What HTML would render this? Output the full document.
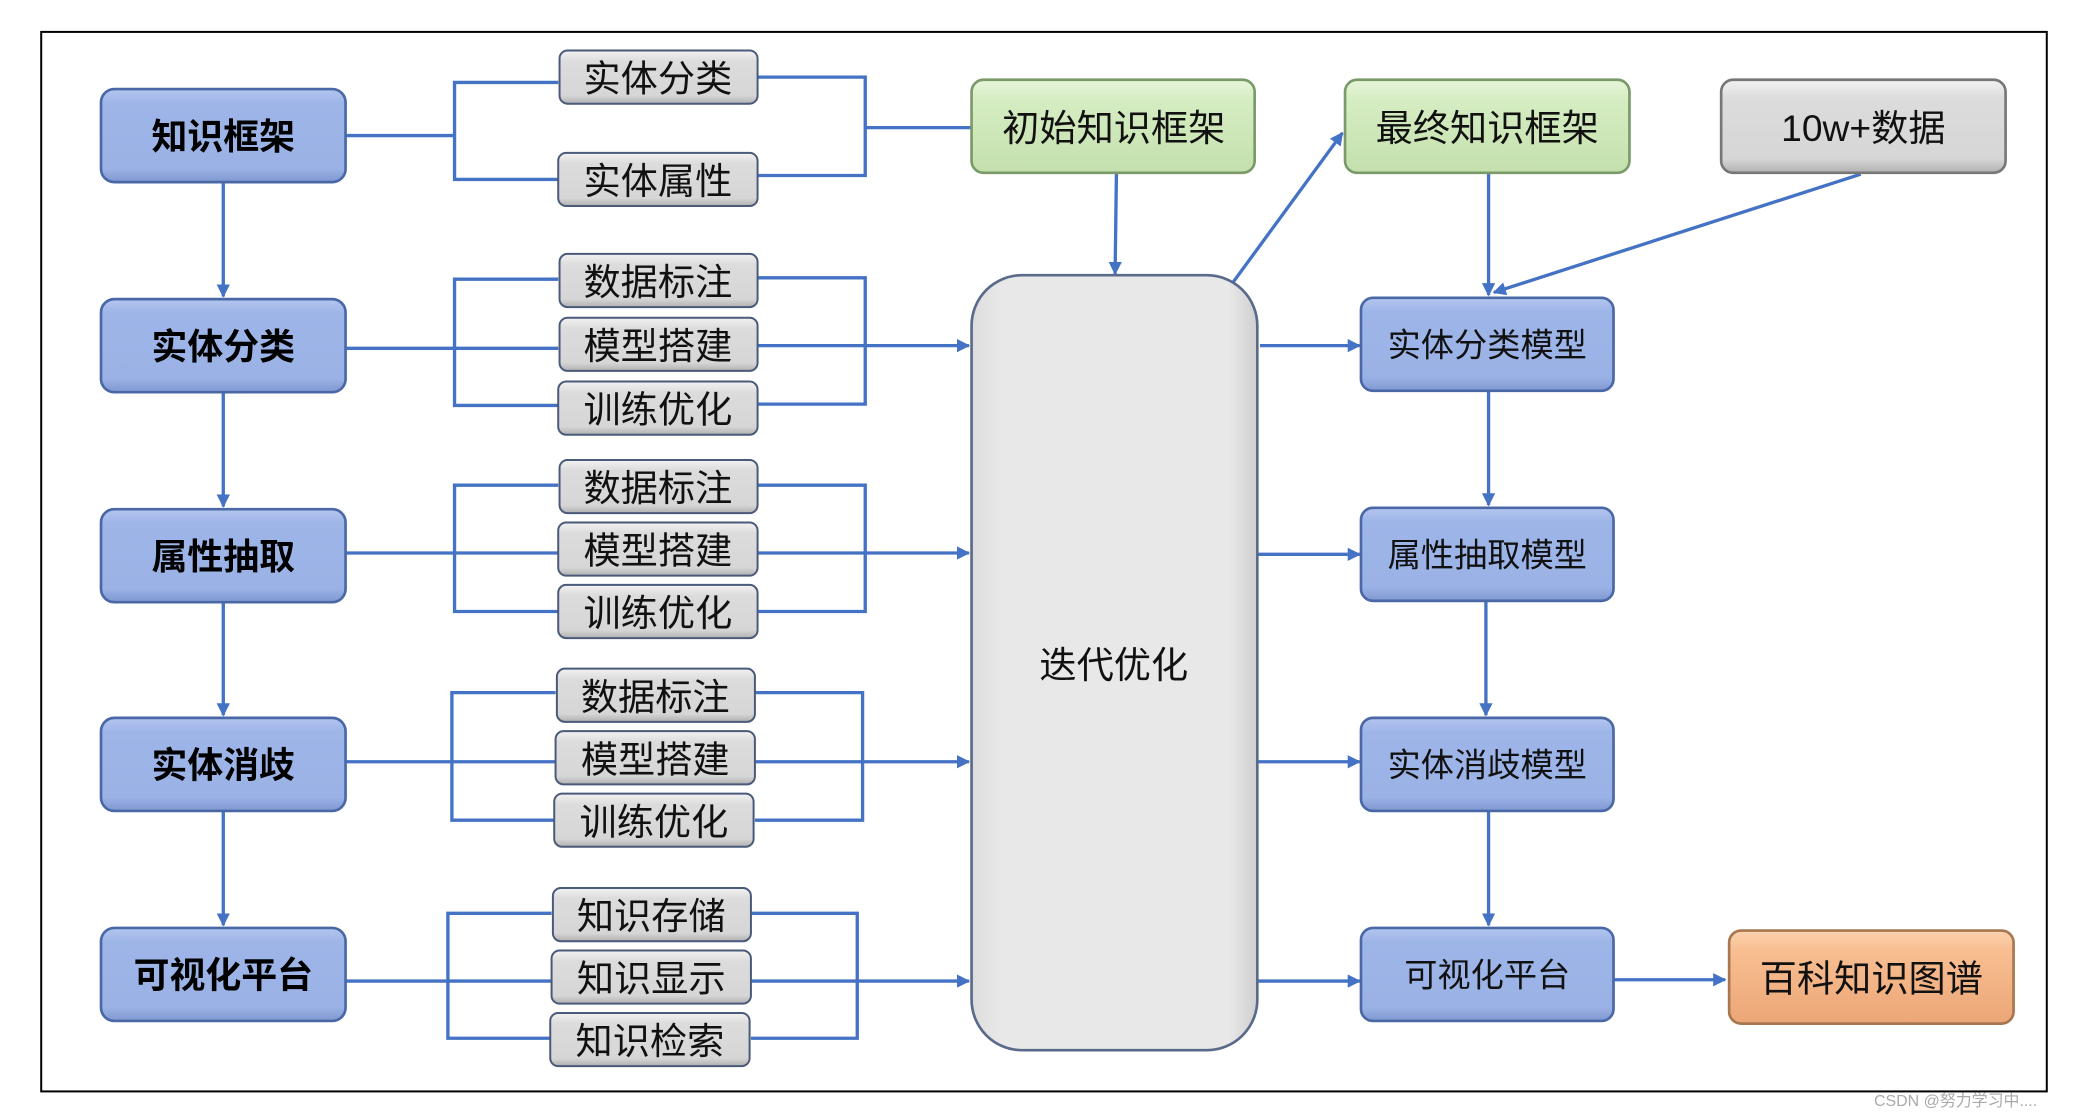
<!DOCTYPE html>
<html><head><meta charset="utf-8"><style>html,body{margin:0;padding:0;background:#fff}svg{display:block}</style></head>
<body>
<svg width="2084" height="1118" viewBox="0 0 1568 841" preserveAspectRatio="none" xmlns="http://www.w3.org/2000/svg" font-family="Liberation Sans, Noto Sans CJK SC, sans-serif">
<defs>
<linearGradient id="b" x1="0" y1="0" x2="0" y2="1"><stop offset="0" stop-color="#b4c6f0"/><stop offset="0.15" stop-color="#9eb5e8"/><stop offset="0.85" stop-color="#9bb2e6"/><stop offset="1" stop-color="#7f98d0"/></linearGradient>
<linearGradient id="g" x1="0" y1="0" x2="0" y2="1"><stop offset="0" stop-color="#f2f2f2"/><stop offset="0.2" stop-color="#dcdcdc"/><stop offset="0.85" stop-color="#d6d6d6"/><stop offset="1" stop-color="#b0b0b0"/></linearGradient>
<linearGradient id="gr" x1="0" y1="0" x2="0" y2="1"><stop offset="0" stop-color="#e8f6dc"/><stop offset="0.2" stop-color="#d6edc3"/><stop offset="1" stop-color="#c4e0ad"/></linearGradient>
<linearGradient id="o" x1="0" y1="0" x2="0" y2="1"><stop offset="0" stop-color="#fbd2b0"/><stop offset="0.2" stop-color="#f8bf92"/><stop offset="1" stop-color="#eca677"/></linearGradient>
<linearGradient id="big" x1="0" y1="0" x2="1" y2="0"><stop offset="0" stop-color="#dcdcdc"/><stop offset="0.1" stop-color="#e8e8e8"/><stop offset="0.9" stop-color="#e8e8e8"/><stop offset="1" stop-color="#cfcfcf"/></linearGradient>
<marker id="a" markerWidth="10" markerHeight="10" refX="9" refY="5" orient="auto" markerUnits="userSpaceOnUse"><path d="M0,0 L10,5 L0,10 z" fill="#4472c4"/></marker>
</defs>
<rect x="31" y="24" width="1509" height="797" fill="none" stroke="#000" stroke-width="1.5"/>
<g stroke="#4472c4" stroke-width="2.5" fill="none">
<!-- left verticals -->
<line x1="168" y1="137" x2="168" y2="223" marker-end="url(#a)"/>
<line x1="168" y1="295" x2="168" y2="381" marker-end="url(#a)"/>
<line x1="168" y1="453" x2="168" y2="538" marker-end="url(#a)"/>
<line x1="168" y1="610" x2="168" y2="696" marker-end="url(#a)"/>
<!-- group1 -->
<polyline points="420,62 342,62 342,135 420,135"/><line x1="260" y1="102" x2="342" y2="102"/>
<polyline points="570,58 651,58 651,132 570,132"/><line x1="651" y1="96" x2="731" y2="96"/>
<!-- group2 -->
<polyline points="420,210 342,210 342,305 420,305"/><line x1="260" y1="262" x2="420" y2="262"/>
<polyline points="570,209 651,209 651,304 570,304"/><line x1="570" y1="260" x2="729" y2="260" marker-end="url(#a)"/>
<!-- group3 -->
<polyline points="420,365 342,365 342,460 420,460"/><line x1="260" y1="416" x2="420" y2="416"/>
<polyline points="570,365 651,365 651,460 570,460"/><line x1="570" y1="416" x2="729" y2="416" marker-end="url(#a)"/>
<!-- group4 -->
<polyline points="418,521 340,521 340,617 418,617"/><line x1="260" y1="573" x2="418" y2="573"/>
<polyline points="568,521 649,521 649,617 568,617"/><line x1="568" y1="573" x2="729" y2="573" marker-end="url(#a)"/>
<!-- group5 -->
<polyline points="415,687 337,687 337,781 415,781"/><line x1="260" y1="738" x2="415" y2="738"/>
<polyline points="565,687 645,687 645,781 565,781"/><line x1="565" y1="738" x2="729" y2="738" marker-end="url(#a)"/>
<!-- center/right -->
<line x1="840" y1="130" x2="839" y2="206" marker-end="url(#a)"/>
<line x1="928" y1="212" x2="1010" y2="100" marker-end="url(#a)"/>
<line x1="1120" y1="130" x2="1120" y2="222" marker-end="url(#a)"/>
<line x1="1400" y1="131" x2="1124" y2="220" marker-end="url(#a)"/>
<line x1="948" y1="260" x2="1023" y2="260" marker-end="url(#a)"/>
<line x1="946" y1="417" x2="1023" y2="417" marker-end="url(#a)"/>
<line x1="946" y1="573" x2="1023" y2="573" marker-end="url(#a)"/>
<line x1="946" y1="738" x2="1023" y2="738" marker-end="url(#a)"/>
<line x1="1120" y1="294" x2="1120" y2="380" marker-end="url(#a)"/>
<line x1="1118" y1="452" x2="1118" y2="538" marker-end="url(#a)"/>
<line x1="1120" y1="610" x2="1120" y2="696" marker-end="url(#a)"/>
<line x1="1214" y1="737" x2="1298" y2="737" marker-end="url(#a)"/>
</g>
<!-- left blue -->
<g stroke="#4a68a6" stroke-width="2" fill="url(#b)">
<rect x="76" y="67" width="184" height="70" rx="10"/>
<rect x="76" y="225" width="184" height="70" rx="10"/>
<rect x="76" y="383" width="184" height="70" rx="10"/>
<rect x="76" y="540" width="184" height="70" rx="10"/>
<rect x="76" y="698" width="184" height="70" rx="10"/>
<rect x="1024" y="224" width="190" height="70" rx="9"/>
<rect x="1024" y="382" width="190" height="70" rx="9"/>
<rect x="1024" y="540" width="190" height="70" rx="9"/>
<rect x="1024" y="698" width="190" height="70" rx="9"/>
</g>
<g font-size="27" font-weight="bold" text-anchor="middle" fill="#000">
<text x="168" y="112">知识框架</text><text x="168" y="270">实体分类</text><text x="168" y="428">属性抽取</text><text x="168" y="585">实体消歧</text><text x="168" y="743">可视化平台</text>
</g>
<g font-size="25" text-anchor="middle" fill="#111">
<text x="1119" y="268">实体分类模型</text><text x="1119" y="426">属性抽取模型</text><text x="1119" y="584">实体消歧模型</text><text x="1119" y="742">可视化平台</text>
</g>
<!-- gray small -->
<g stroke="#4a5a7a" stroke-width="1.5" fill="url(#g)">
<rect x="421" y="38" width="149" height="40" rx="6"/><rect x="420" y="115" width="150" height="40" rx="6"/>
<rect x="421" y="191" width="149" height="40" rx="6"/><rect x="421" y="239" width="149" height="40" rx="6"/><rect x="420" y="287" width="150" height="40" rx="6"/>
<rect x="421" y="346" width="149" height="40" rx="6"/><rect x="420" y="393" width="150" height="40" rx="6"/><rect x="420" y="440" width="150" height="40" rx="6"/>
<rect x="419" y="503" width="149" height="40" rx="6"/><rect x="418" y="550" width="150" height="40" rx="6"/><rect x="417" y="597" width="150" height="40" rx="6"/>
<rect x="416" y="668" width="149" height="40" rx="6"/><rect x="415" y="715" width="150" height="40" rx="6"/><rect x="414" y="762" width="150" height="40" rx="6"/>
</g>
<g font-size="28" text-anchor="middle" fill="#111">
<text x="495" y="69">实体分类</text><text x="495" y="146">实体属性</text>
<text x="495" y="222">数据标注</text><text x="495" y="270">模型搭建</text><text x="495" y="318">训练优化</text>
<text x="495" y="377">数据标注</text><text x="495" y="424">模型搭建</text><text x="495" y="471">训练优化</text>
<text x="493" y="534">数据标注</text><text x="493" y="581">模型搭建</text><text x="492" y="628">训练优化</text>
<text x="490" y="699">知识存储</text><text x="490" y="746">知识显示</text><text x="489" y="793">知识检索</text>
</g>
<!-- top boxes -->
<rect x="731" y="60" width="213" height="70" rx="9" fill="url(#gr)" stroke="#7a9a6a" stroke-width="2"/>
<rect x="1012" y="60" width="214" height="70" rx="9" fill="url(#gr)" stroke="#7a9a6a" stroke-width="2"/>
<rect x="1295" y="60" width="214" height="70" rx="9" fill="url(#g)" stroke="#777" stroke-width="2"/>
<rect x="1301" y="700" width="214" height="70" rx="9" fill="url(#o)" stroke="#a8774f" stroke-width="2"/>
<g font-size="28" text-anchor="middle" fill="#111">
<text x="838" y="106">初始知识框架</text><text x="1119" y="106">最终知识框架</text><text x="1402" y="106">10w+数据</text><text x="1408" y="746">百科知识图谱</text>
</g>
<!-- big -->
<rect x="731" y="207" width="215" height="583" rx="38" fill="url(#big)" stroke="#5a6a8a" stroke-width="2"/>
<text x="838" y="510" font-size="28" text-anchor="middle" fill="#111">迭代优化</text>
<text x="1410" y="832" font-size="12" fill="#aaa">CSDN @努力学习中....</text>
</svg>
</body></html>
